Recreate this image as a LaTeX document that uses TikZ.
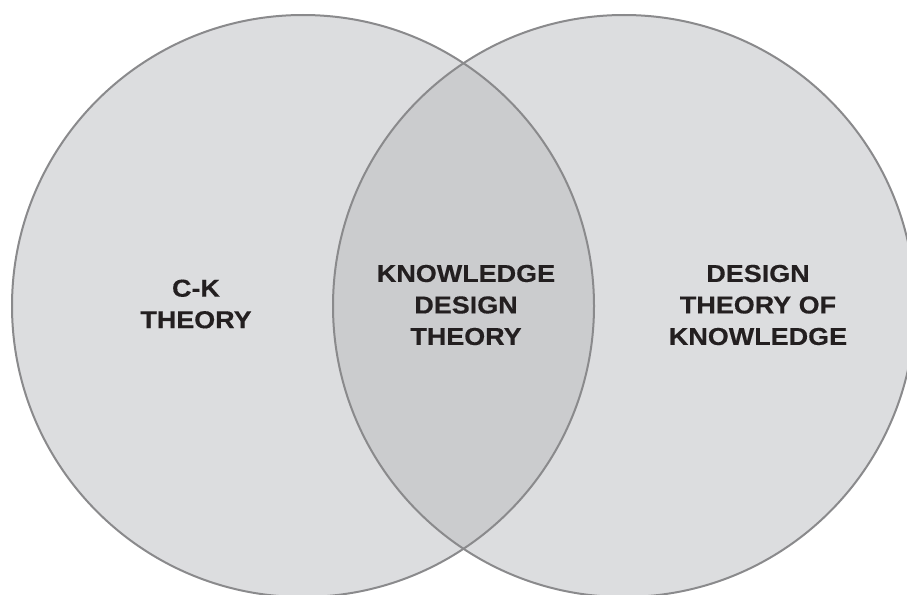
\documentclass[tikz,border=0pt]{standalone}
\usepackage{fontspec}
\setmainfont{Liberation Sans}
\newfontfamily\lblfont[FakeStretch=1.1,FakeBold=0.4]{Liberation Sans Bold}
\definecolor{cfill}{RGB}{220,221,223}
\definecolor{cover}{RGB}{203,204,206}
\definecolor{cline}{RGB}{138,138,140}
\definecolor{ctext}{RGB}{35,31,32}
\begin{document}
\begin{tikzpicture}[x=1pt,y=-1pt,
  circ/.style={draw=cline,line width=2pt},
  lbl/.style={align=center,font=\lblfont\fontsize{24.5}{31.5}\selectfont,text=ctext,inner sep=0pt}]
\useasboundingbox (0,0) rectangle (907,594);
\begin{scope}
\clip (0,0) rectangle (907,594);
\fill[cfill] (303,306) circle (291);
\fill[cfill] (624,306) circle (291);
\begin{scope}
\clip (303,306) circle (291);
\fill[cover] (624,306) circle (291);
\end{scope}
\draw[circ] (303,306) circle (291);
\draw[circ] (624,306) circle (291);
\end{scope}
\node[lbl] (ck) at (196,304) {C-K\\THEORY};
\node[lbl] (kdt) at (466,305) {KNOWLEDGE\\DESIGN\\THEORY};
\node[lbl] (dtk) at (758,305) {DESIGN\\THEORY OF\\KNOWLEDGE};
\end{tikzpicture}
\end{document}
